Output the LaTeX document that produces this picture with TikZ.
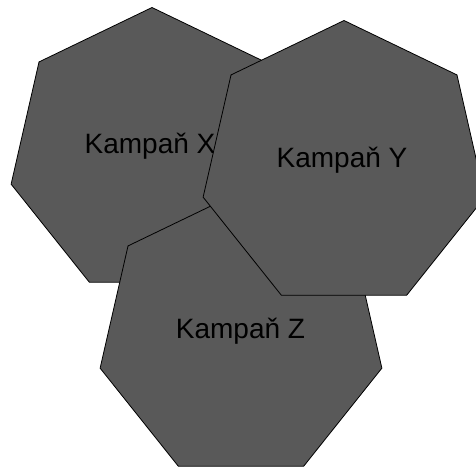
\documentclass[tikz,border=0pt]{standalone}
\usepackage{fontspec}
\setmainfont{Liberation Sans}
\usepackage{tikz}
\usetikzlibrary{shapes.geometric, positioning}
\definecolor{kampgray}{RGB}{89,89,89}
\tikzset{
  kampan/.style={regular polygon, regular polygon sides=7, draw=black, fill=kampgray, minimum size=289pt, inner sep=0pt, line width=0.8pt},
  kampantext/.style={anchor=base, font=\fontsize{28}{33}\selectfont, text=black, inner sep=0pt}
}

\begin{document}
\begin{tikzpicture}[x=1pt, y=-1pt]
  \clip (0,0) rectangle (476,466);

  % Kampan X
  \node[kampan] (kx) at (152,152) {};
  \node[kampantext] (kxt) at ([xshift=-2pt, yshift=-1.5pt]kx.center) {Kampaň X};

  % Kampan Z
  \node[kampan] (kz) at (241,336) {};
  \node[kampantext] (kzt) at ([xshift=-0.5pt, yshift=-2pt]kz.center) {Kampaň Z};

  % Kampan Y
  \node[kampan] (ky) at (344,165) {};
  \node[kampantext] (kyt) at ([xshift=-2pt, yshift=-2pt]ky.center) {Kampaň Y};
\end{tikzpicture}
\end{document}
